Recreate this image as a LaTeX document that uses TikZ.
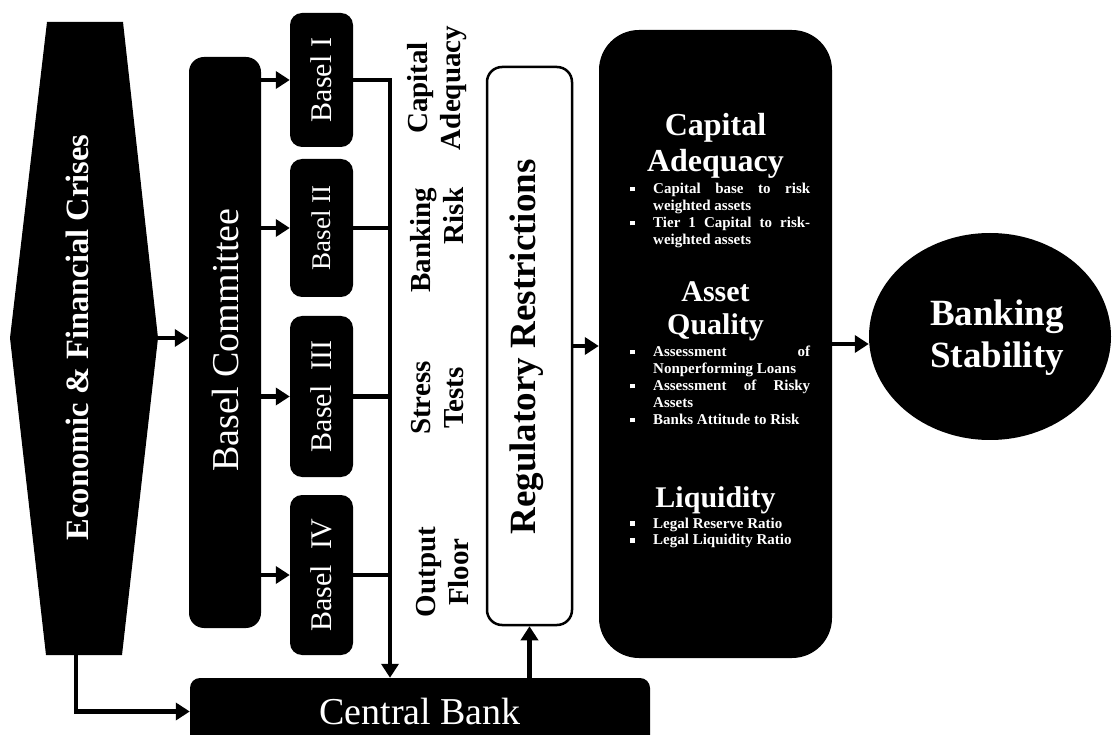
\documentclass[tikz,border=0pt]{standalone}
\usepackage{fontspec}
\setmainfont{Liberation Serif}
\usepackage{tikz}
\usetikzlibrary{arrows.meta,shapes.geometric}
\newcommand{\bul}{\makebox[23pt][l]{\rule[2.5pt]{4.5pt}{4.5pt}}}
\newcommand{\jline}[1]{\makebox[157pt][s]{#1}}
\newcommand{\ind}{\hspace*{23pt}}

\tikzset{
  blk/.style={fill=black,rounded corners=#1},
  blk/.default=12pt,
  wtxt/.style={text=white,inner sep=0pt},
  arr/.style={line width=4.5pt,-{Triangle[length=14pt,width=17pt]}},
  bus/.style={line width=4.5pt},
  side/.style={rotate=90,inner sep=0pt,font=\fontsize{29}{33}\selectfont\bfseries},
}

\begin{document}
\begin{tikzpicture}[x=1pt,y=-1pt]
\useasboundingbox (0,0) rectangle (1112,735);
\clip (0,0) rectangle (1112,735);

%crises
\fill (47,22) -- (123,22) -- (158,338) -- (122,655) -- (46,655) -- (10,338) -- cycle;
\coordinate (crisisE) at (158,338);
\coordinate (crisisS) at (76,655);
\node[wtxt,rotate=90,font=\fontsize{32.5}{36}\selectfont\bfseries] (crisis) at (77,337.5) {Economic \& Financial Crises};

%committee
\node[blk=15pt,minimum width=72,minimum height=571] (comm) at (225,342.5) {};
\node[wtxt,rotate=90,font=\fontsize{38}{42}\selectfont] (commtxt) at (226,340) {Basel Committee};
\draw[arr] (crisisE) -- (crisisE -| comm.west);

%Basel I-IV
\node[blk,minimum width=63,minimum height=134] (b1) at (321.5,80) {};
\node[blk,minimum width=63,minimum height=138] (b2) at (321.5,228) {};
\node[blk,minimum width=63,minimum height=161] (b3) at (321.5,396.5) {};
\node[blk,minimum width=63,minimum height=160] (b4) at (321.5,575) {};
\node[wtxt,rotate=90,font=\fontsize{30}{34}\selectfont] (b1txt) at (b1) {Basel I};
\node[wtxt,rotate=90,font=\fontsize{27}{30}\selectfont] (b2txt) at (b2) {Basel II};
\node[wtxt,rotate=90,font=\fontsize{30}{34}\selectfont] (b3txt) at (b3) {Basel\ \ III};
\node[wtxt,rotate=90,font=\fontsize{30}{34}\selectfont] (b4txt) at (b4) {Basel\ \ IV};
\draw[arr] (comm.east |- b1) -- (b1.west);
\draw[arr] (comm.east |- b2) -- (b2.west);
\draw[arr] (comm.east |- b3) -- (b3.west);
\draw[arr] (comm.east |- b4) -- (b4.west);

%central bank
\node[blk=10pt,minimum width=460,minimum height=67,text=white,font=\fontsize{38}{42}\selectfont] (cb) at (420,711.5) {Central Bank};
\draw[arr] (crisisS) |- (cb.west);

%bus
\coordinate (bustop) at (390,80);
\draw[arr] (b1.east) -- (bustop) -- (bustop |- cb.north);
\draw[bus] (b2.east) -- (b2.east -| bustop);
\draw[bus] (b3.east) -- (b3.east -| bustop);
\draw[bus] (b4.east) -- (b4.east -| bustop);

%side labels
\node[side,align=center] (capl) at (437,88) {Capital\\Adequacy};
\node[side,align=right] (riskl) at (437,240) {Banking\\Risk};
\node[side,align=center] (stressl) at (438,398) {Stress\\Tests};
\node[side,align=center] (floorl) at (443,572) {Output\\Floor};

%regulatory restrictions
\node[draw=black,line width=2.5pt,fill=white,rounded corners=15pt,minimum width=85,minimum height=558] (reg) at (529.5,346) {};
\node[rotate=90,inner sep=0pt,font=\fontsize{37}{40}\selectfont\bfseries] (regtxt) at (527,347) {Regulatory Restrictions};
\draw[arr] (reg.south |- cb.north) -- (reg.south);

%indicators
\node[blk=40pt,minimum width=233,minimum height=628] (ind) at (715.5,344) {};
\draw[arr] (reg.east) -- (reg.east -| ind.west);

\node[wtxt,anchor=base,font=\fontsize{32}{36}\selectfont\bfseries] (cahead) at (715.5,136)
  {\begin{minipage}[t]{220pt}\centering Capital\\Adequacy\end{minipage}};
\node[wtxt,anchor=base west,font=\fontsize{15}{17}\selectfont\bfseries] (calist) at (630,194)
  {\begin{minipage}[t]{185pt}
  \bul\jline{Capital base to risk}\\
  \ind weighted assets\\
  \bul\jline{Tier 1 Capital to risk-}\\
  \ind weighted assets
  \end{minipage}};

\node[wtxt,anchor=base,font=\fontsize{30}{33}\selectfont\bfseries] (aqhead) at (715.5,302)
  {\begin{minipage}[t]{220pt}\centering Asset\\Quality\end{minipage}};
\node[wtxt,anchor=base west,font=\fontsize{15}{17}\selectfont\bfseries] (aqlist) at (630,357)
  {\begin{minipage}[t]{185pt}
  \bul\jline{Assessment of}\\
  \ind Nonperforming Loans\\
  \bul\jline{Assessment of Risky}\\
  \ind Assets\\
  \bul Banks Attitude to Risk
  \end{minipage}};

\node[wtxt,anchor=base,font=\fontsize{30}{33}\selectfont\bfseries] (liqhead) at (715.5,507) {Liquidity};
\node[wtxt,anchor=base west,font=\fontsize{15}{17}\selectfont\bfseries] (liqlist) at (630,528)
  {\begin{minipage}[t]{185pt}
  \bul Legal Reserve Ratio\\
  \bul Legal Liquidity Ratio
  \end{minipage}};

%stability
\node[ellipse,fill=black,inner sep=0pt,minimum width=242,minimum height=207] (stab) at (990,336.5) {};
\node[wtxt,align=center,font=\fontsize{37}{42}\selectfont\bfseries] (stabtxt) at (997,338) {Banking\\Stability};
\draw[arr] (ind.east) -- (ind.east -| stab.west);
\end{tikzpicture}
\end{document}
